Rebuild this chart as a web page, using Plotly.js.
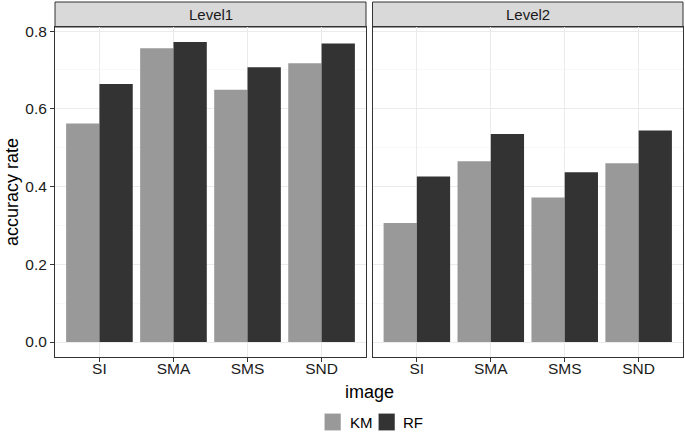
<!DOCTYPE html>
<html>
<head>
<meta charset="utf-8">
<script src="https://cdn.plot.ly/plotly-3.0.1.min.js"></script>
<style>html,body{margin:0;padding:0;background:#fff}#chart{width:685px;height:437px}</style>
</head>
<body>
<div id="chart"></div>
<script>
const categories = ["SI", "SMA", "SMS", "SND"];
const level1KM = [0.562, 0.756, 0.649, 0.717];
const level1RF = [0.664, 0.772, 0.707, 0.768];
const level2KM = [0.306, 0.465, 0.372, 0.460];
const level2RF = [0.426, 0.535, 0.437, 0.544];
const panelNames = ["Level1", "Level2"];
const seriesNames = ["KM", "RF"];
const colors = {KM: "#999999", RF: "#333333"};

const font = "Liberation Sans, Arial, sans-serif";

function bar(name, x, y, xa, ya) {
  return {
    type: "bar", name: name, x: x, y: y, xaxis: xa, yaxis: ya,
    marker: {color: colors[name], line: {color: colors[name], width: 0}},
    showlegend: false, legendgroup: name, hoverinfo: "x+y"
  };
}

const data = [
  bar(seriesNames[0], categories, level1KM, "x", "y"),
  bar(seriesNames[1], categories, level1RF, "x", "y"),
  bar(seriesNames[0], categories, level2KM, "x2", "y2"),
  bar(seriesNames[1], categories, level2RF, "x2", "y2")
];

const W = 628;
const d1 = [0, 311 / W];
const d2 = [317.5 / W, 1];
const stripTop = 1 + 25 / 330;

const xCommon = {
  type: "category", range: [-0.6, 3.6], showgrid: true, gridcolor: "#EBEBEB", gridwidth: 1,
  showline: true, mirror: true, linecolor: "#333333", linewidth: 1,
  ticks: "outside", ticklen: 4, tickcolor: "#333333", ticklabelstandoff: -7,
  tickfont: {family: font, size: 15.5, color: "#1a1a1a"}, zeroline: false, fixedrange: true
};
const yCommon = {
  range: [-0.0386, 0.8106], tickvals: [0, 0.2, 0.4, 0.6, 0.8], ticktext: ["0.0", "0.2", "0.4", "0.6", "0.8"],
  showgrid: true, gridcolor: "#EBEBEB", gridwidth: 1,
  minor: {tickvals: [0.1, 0.3, 0.5, 0.7], showgrid: true, gridcolor: "#F4F4F4", gridwidth: 0.6},
  showline: true, mirror: true, linecolor: "#333333", linewidth: 1,
  zeroline: false, fixedrange: true
};

// legend keys (ggplot-style bottom legend)
const legX = [[0.4288, 0.4554, 0.4666], [0.5148, 0.5414, 0.551]];
const legShapes = seriesNames.map((n, i) => ({
  type: "rect", xref: "paper", yref: "paper", x0: legX[i][0], x1: legX[i][1], y0: -0.2233, y1: -0.1706,
  fillcolor: colors[n], line: {color: "#ffffff", width: 0.5}
}));
const legAnn = seriesNames.map((n, i) => ({
  text: n, xref: "paper", yref: "paper", x: legX[i][2], y: -0.197, xanchor: "left", yanchor: "middle",
  showarrow: false, font: {family: font, size: 15, color: "#000"}
}));

const layout = {
  width: 685, height: 437,
  margin: {l: 55, r: 2, t: 27, b: 80, autoexpand: false},
  paper_bgcolor: "#ffffff", plot_bgcolor: "#ffffff",
  font: {family: font, color: "#000"},
  barmode: "group", bargap: 0.1, bargroupgap: 0,
  xaxis: Object.assign({}, xCommon, {domain: d1, anchor: "y"}),
  xaxis2: Object.assign({}, xCommon, {domain: d2, anchor: "y2"}),
  yaxis: Object.assign({}, yCommon, {
    domain: [0, 1], anchor: "x", ticks: "outside", ticklen: 4, tickcolor: "#333333",
    tickfont: {family: font, size: 15.5, color: "#1a1a1a"},
    title: {text: "accuracy rate", font: {family: font, size: 18, color: "#000"}, standoff: 2}
  }),
  yaxis2: Object.assign({}, yCommon, {domain: [0, 1], anchor: "x2", showticklabels: false, ticks: ""}),
  showlegend: false,
  shapes: [
    {type: "rect", xref: "paper", yref: "paper", x0: d1[0], x1: d1[1], y0: 1, y1: stripTop,
      fillcolor: "#D9D9D9", line: {color: "#333333", width: 1}, layer: "below"},
    {type: "rect", xref: "paper", yref: "paper", x0: d2[0], x1: d2[1], y0: 1, y1: stripTop,
      fillcolor: "#D9D9D9", line: {color: "#333333", width: 1}, layer: "below"}
  ].concat(legShapes),
  annotations: [
    {text: panelNames[0], xref: "paper", yref: "paper", x: (d1[0] + d1[1]) / 2, y: (1 + stripTop) / 2,
      xanchor: "center", yanchor: "middle", showarrow: false, font: {family: font, size: 15, color: "#1a1a1a"}},
    {text: panelNames[1], xref: "paper", yref: "paper", x: (d2[0] + d2[1]) / 2, y: (1 + stripTop) / 2,
      xanchor: "center", yanchor: "middle", showarrow: false, font: {family: font, size: 15, color: "#1a1a1a"}},
    {text: "image", xref: "paper", yref: "paper", x: 0.5, y: -0.07, xanchor: "center", yanchor: "top",
      showarrow: false, font: {family: font, size: 18, color: "#000"}}
  ].concat(legAnn)
};

Plotly.newPlot("chart", data, layout, {displayModeBar: false, staticPlot: true});
</script>
</body>
</html>
